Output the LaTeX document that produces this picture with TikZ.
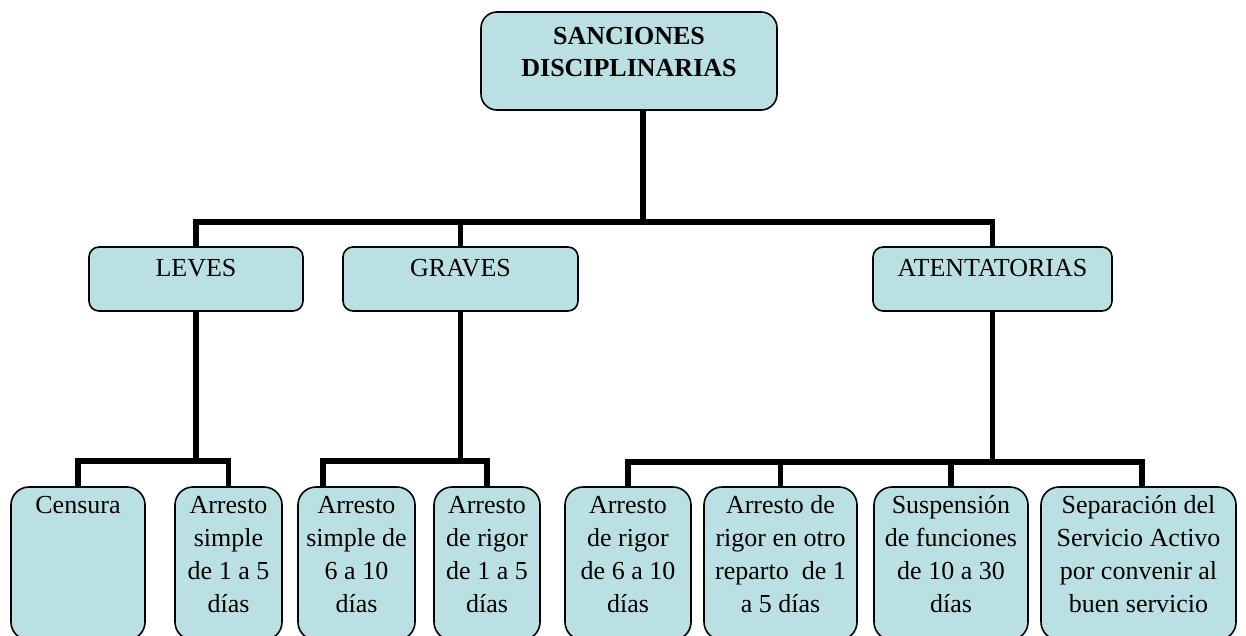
\documentclass[tikz,border=0pt]{standalone}
\usepackage{fontspec}
\setmainfont{Liberation Serif}
\definecolor{boxfill}{RGB}{187,224,228}
\newcommand\bxtext[4]{\parbox[c][#2][t]{#1}{\centering\vspace*{#3}\strut #4}}
\begin{document}
\begin{tikzpicture}[x=1pt,y=-1pt,
  box/.style={draw, line width=1.6pt, fill=boxfill, inner sep=0pt, font=\fontsize{26}{33}\selectfont},
  topbox/.style={box, rounded corners=16pt, font=\fontsize{26}{32}\selectfont\bfseries},
  midbox/.style={box, rounded corners=10pt},
  leafbox/.style={box, rounded corners=18pt},
  link/.style={line width=5.5pt}]
\useasboundingbox (0,0) rectangle (1246,635);

% top
\node[topbox] (top) at (629,61) {\bxtext{296pt}{98pt}{10pt}{SANCIONES\\DISCIPLINARIAS}};

% middle level
\node[midbox] (leves)  at (196,279)   {\bxtext{214pt}{64pt}{6pt}{LEVES}};
\node[midbox] (graves) at (460.5,279) {\bxtext{235pt}{64pt}{6pt}{GRAVES}};
\node[midbox] (aten)   at (992.5,279) {\bxtext{239pt}{64pt}{6pt}{ATENTATORIAS}};

% leaves
\node[leafbox] (cens) at (78,563.5)    {\bxtext{134pt}{153pt}{3pt}{Censura}};
\node[leafbox] (s1)   at (228.5,563.5) {\bxtext{107pt}{153pt}{3pt}{Arresto\\simple\\de 1 a 5\\días}};
\node[leafbox] (g1)   at (356.5,563.5) {\bxtext{117pt}{153pt}{3pt}{Arresto\\simple de\\6 a 10\\días}};
\node[leafbox] (g2)   at (487,563.5)   {\bxtext{106pt}{153pt}{3pt}{Arresto\\de rigor\\de 1 a 5\\días}};
\node[leafbox] (a1)   at (628,563.5)   {\bxtext{126pt}{153pt}{3pt}{Arresto\\de rigor\\de 6 a 10\\días}};
\node[leafbox] (a2)   at (780.5,563.5) {\bxtext{153pt}{153pt}{3pt}{Arresto de\\rigor en otro\\reparto\ \ de 1\\a 5 días}};
\node[leafbox] (a3)   at (951,563.5)   {\bxtext{154pt}{153pt}{3pt}{Suspensión\\de funciones\\de 10 a 30\\días}};
\node[leafbox] (a4)   at (1138.5,563.5){\bxtext{195pt}{153pt}{3pt}{Separación del\\Servicio Activo\\por convenir al\\buen servicio}};

% top connectors
\coordinate (trunk) at (643,222);
\draw[link] (top.south -| trunk) -- (trunk);
\draw[link] (leves.north) |- (trunk) -| (aten.north);
\draw[link] (graves.north) -- (graves.north |- trunk);

% leves
\coordinate (lbar) at (197,461);
\draw[link] (leves.south) -- (leves.south |- lbar);
\draw[link] (cens.north) |- (lbar) -| (s1.north);

% graves
\coordinate (gbar) at (461,461);
\coordinate (g1drop) at (323,487);
\draw[link] (graves.south) -- (graves.south |- gbar);
\draw[link] (g1drop) |- (gbar) -| (g2.north);

% atentatorias
\coordinate (abar) at (992,462);
\coordinate (a4drop) at (1142,487);
\draw[link] (aten.south) -- (aten.south |- abar);
\draw[link] (a1.north) |- (abar) -| (a4drop);
\draw[link] (a2.north) -- (a2.north |- abar);
\draw[link] (a3.north) -- (a3.north |- abar);
\end{tikzpicture}
\end{document}
